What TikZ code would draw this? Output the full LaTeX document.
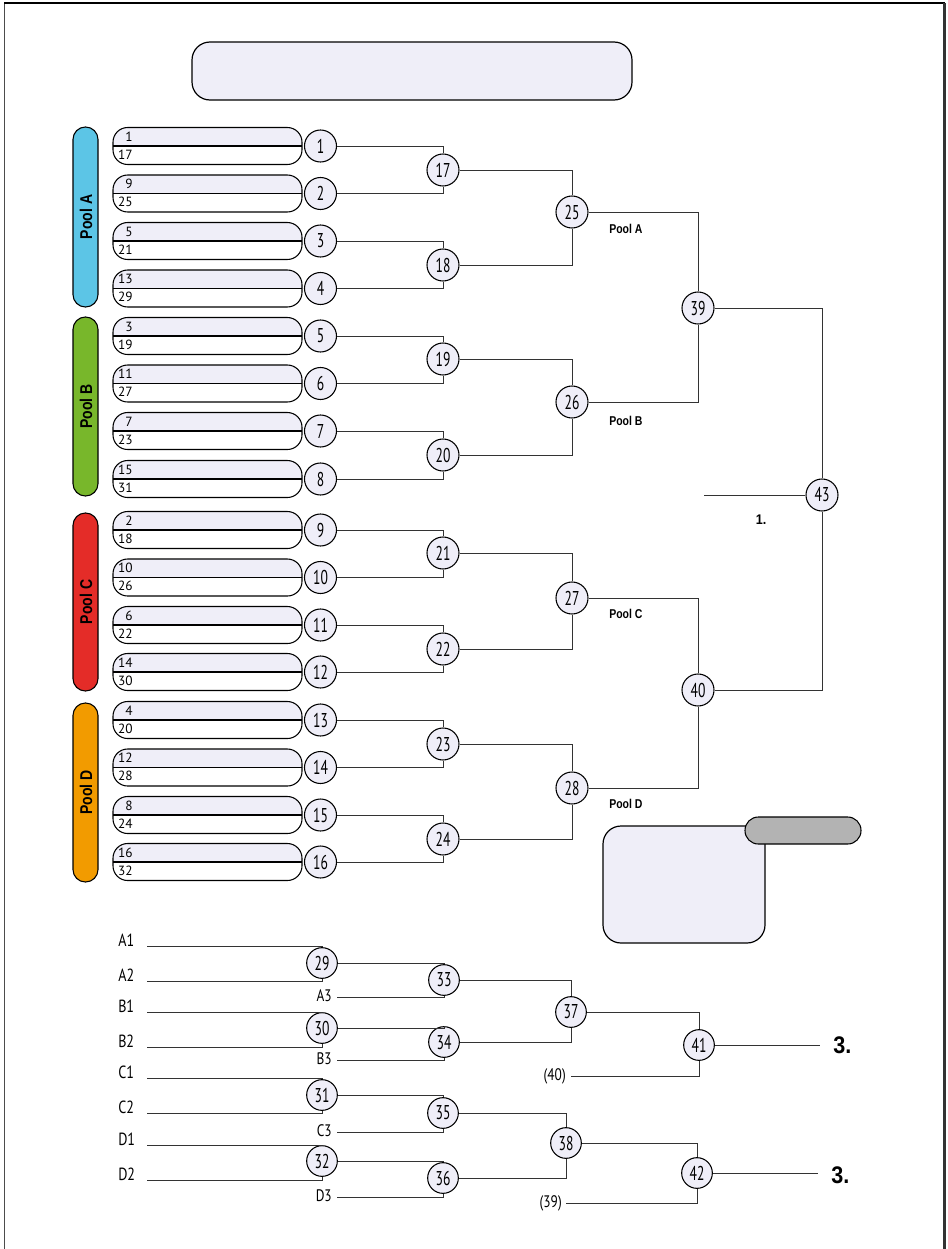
\documentclass[tikz,border=0pt]{standalone}
\usepackage{fontspec}
\setmainfont{PT Sans}
\newfontfamily\cnd{PT Sans}[FakeStretch=0.68]
\newfontfamily\lbl{PT Sans}[FakeStretch=0.8]
\newfontfamily\hb{Liberation Sans}[FakeStretch=0.9]
\newfontfamily\hbc{Liberation Sans}[FakeStretch=0.82]
\definecolor{lav}{HTML}{EFEEF8}
\definecolor{poolA}{HTML}{5CC5E6}
\definecolor{poolB}{HTML}{78B72B}
\definecolor{poolC}{HTML}{E42C28}
\definecolor{poolD}{HTML}{F29B00}
\definecolor{pill}{HTML}{B3B3B3}
\tikzset{
  circ/.style={circle, draw=black, line width=0.8pt, fill=lav, minimum size=24pt, inner sep=0pt, font=\cnd\fontsize{15}{15}\selectfont},
  circs/.style={circ, minimum size=23pt},
  wire/.style={draw=black!80, line width=0.75pt},
  poolbar/.style={draw=black, line width=0.8pt, rounded corners=9.3pt},
  pooltxt/.style={rotate=90, inner sep=0pt, font=\hbc\bfseries\fontsize{12.8}{13}\selectfont},
  plab/.style={anchor=west, inner sep=0pt, font=\hbc\bfseries\fontsize{9.6}{10}\selectfont},
  entnum/.style={anchor=east, inner sep=0pt, font=\fontsize{10}{10}\selectfont},
  seedlab/.style={anchor=west, inner sep=0pt, font=\lbl\fontsize{13.2}{13}\selectfont},
  thirdlab/.style={anchor=east, inner sep=0pt, font=\lbl\fontsize{12.5}{13}\selectfont},
  bigrank/.style={anchor=west, inner sep=0pt, font=\hb\bfseries\fontsize{18}{18}\selectfont},
  panel/.style={draw=black, line width=0.9pt, fill=lav}
}
\begin{document}
\begin{tikzpicture}[x=0.75pt,y=-0.75pt]
\useasboundingbox (0,0) rectangle (947,1249);
% frame
\draw[black!70, line width=0.8pt] (4.5,1249) -- (4.5,3);
\draw[black, line width=0.8pt] (4,3) -- (945,3);
\draw[black!80, line width=1.6pt] (944.5,3) -- (944.5,1249);
% top title box
\draw[panel, rounded corners=13.5pt] (192,42) rectangle (632,100);
% pool bars
\draw[poolbar, fill=poolA] (73,127) rectangle (98,307);
\draw[poolbar, fill=poolB] (73,317) rectangle (98,496);
\draw[poolbar, fill=poolC] (73,513) rectangle (98,691);
\draw[poolbar, fill=poolD] (73,703) rectangle (98,882);
\node[pooltxt] (pA) at (86,217) {Pool A};
\node[pooltxt] (pB) at (86,406.5) {Pool B};
\node[pooltxt] (pC) at (86,602) {Pool C};
\node[pooltxt] (pD) at (86,792.5) {Pool D};
% entry boxes
\foreach \i/\cy/\a/\b in {1/146/1/17,2/193.5/9/25,3/241/5/21,4/288.5/13/29,
  5/336/3/19,6/383.5/11/27,7/431/7/23,8/479/15/31,
  9/530/2/18,10/577.5/10/26,11/625/6/22,12/672/14/30,
  13/720/4/20,14/767.5/12/28,15/815/8/24,16/862/16/32}{
  \fill[white, rounded corners=11pt] (113,{\cy-18.5}) rectangle (302,{\cy+18.5});
  \begin{scope}
    \clip (110,{\cy-20}) rectangle (305,\cy);
    \fill[lav, rounded corners=11pt] (113,{\cy-18.5}) rectangle (302,{\cy+18.5});
  \end{scope}
  \draw[black, line width=0.8pt, rounded corners=11pt] (113,{\cy-18.5}) rectangle (302,{\cy+18.5});
  \draw[black, line width=0.8pt] (113,\cy) -- (302,\cy);
  \node[entnum] (et\i) at (133,{\cy-9.5}) {\a};
  \node[entnum] (eb\i) at (133,{\cy+8.5}) {\b};
  \node[circ] (c\i) at (320.5,\cy) {\i};
}
% round 2
\foreach \i/\cy in {17/170,18/265,19/359,20/455,21/553,22/649,23/744,24/839}
  \node[circ] (c\i) at (443,\cy) {\i};
% round 3
\foreach \i/\cy in {25/212,26/402,27/598,28/788}
  \node[circ] (c\i) at (572,\cy) {\i};
\node[circ] (c39) at (698,308) {39};
\node[circ] (c40) at (698,690) {40};
\node[circ] (c43) at (822,495) {43};
% connectors main bracket
\draw[wire] (c1.east) -| (c17.north);  \draw[wire] (c2.east) -| (c17.south);
\draw[wire] (c3.east) -| (c18.north);  \draw[wire] (c4.east) -| (c18.south);
\draw[wire] (c5.east) -| (c19.north);  \draw[wire] (c6.east) -| (c19.south);
\draw[wire] (c7.east) -| (c20.north);  \draw[wire] (c8.east) -| (c20.south);
\draw[wire] (c9.east) -| (c21.north);  \draw[wire] (c10.east) -| (c21.south);
\draw[wire] (c11.east) -| (c22.north); \draw[wire] (c12.east) -| (c22.south);
\draw[wire] (c13.east) -| (c23.north); \draw[wire] (c14.east) -| (c23.south);
\draw[wire] (c15.east) -| (c24.north); \draw[wire] (c16.east) -| (c24.south);
\draw[wire] (c17.east) -| (c25.north); \draw[wire] (c18.east) -| (c25.south);
\draw[wire] (c19.east) -| (c26.north); \draw[wire] (c20.east) -| (c26.south);
\draw[wire] (c21.east) -| (c27.north); \draw[wire] (c22.east) -| (c27.south);
\draw[wire] (c23.east) -| (c28.north); \draw[wire] (c24.east) -| (c28.south);
\draw[wire] (c25.east) -| (c39.north); \draw[wire] (c26.east) -| (c39.south);
\draw[wire] (c27.east) -| (c40.north); \draw[wire] (c28.east) -| (c40.south);
\draw[wire] (c39.east) -| (c43.north); \draw[wire] (c40.east) -| (c43.south);
\coordinate (winL) at (704,495);
\draw[wire] (c43.west) -- (winL);
\node[anchor=center, inner sep=0pt, font=\hb\bfseries\fontsize{10.5}{11}\selectfont] (first) at (761,520) {1.};
\node[plab] (lA) at (609,229) {Pool A};
\node[plab] (lB) at (609,421) {Pool B};
\node[plab] (lC) at (609,614) {Pool C};
\node[plab] (lD) at (609,804) {Pool D};
% lower right panel and pill
\draw[panel, rounded corners=13.5pt] (603,826) rectangle (765,943);
\draw[draw=black, line width=0.8pt, fill=pill, rounded corners=10pt] (745,817) rectangle (861,844);
% consolation bracket
\node[circs] (c29) at (322,963) {29};
\node[circs] (c30) at (322,1028) {30};
\node[circs] (c31) at (322,1095) {31};
\node[circs] (c32) at (322,1161) {32};
\node[circs] (c33) at (444,980) {33};
\node[circs] (c34) at (444,1042) {34};
\node[circs] (c35) at (443,1113) {35};
\node[circs] (c36) at (443,1178) {36};
\node[circs] (c37) at (571,1012) {37};
\node[circs] (c38) at (566,1143) {38};
\node[circs] (c41) at (699,1045) {41};
\node[circs] (c42) at (697,1173) {42};
% seed labels and line starts
\foreach \n/\ly/\c/\s in {A1/946/c29/north,A2/981/c29/south,B1/1012/c30/north,B2/1047/c30/south,
  C1/1078/c31/north,C2/1113/c31/south,D1/1145/c32/north,D2/1180/c32/south}{
  \node[seedlab] (l\n) at (118,{\ly-6}) {\n};
  \coordinate (s\n) at (147,\ly);
  \draw[wire] (s\n) -| (\c.\s);
}
\foreach \n/\ly/\c in {A3/997/c33,B3/1060/c34,C3/1132/c35,D3/1197/c36}{
  \node[thirdlab] (l\n) at (332,{\ly-1}) {\n};
  \coordinate (s\n) at (337,\ly);
  \draw[wire] (s\n) -| (\c.south);
}
\draw[wire] (c29.east) -| (c33.north);
\draw[wire] (c30.east) -| (c34.north);
\draw[wire] (c31.east) -| (c35.north);
\draw[wire] (c32.east) -| (c36.north);
\draw[wire] (c33.east) -| (c37.north); \draw[wire] (c34.east) -| (c37.south);
\draw[wire] (c35.east) -| (c38.north); \draw[wire] (c36.east) -| (c38.south);
\draw[wire] (c37.east) -| (c41.north);
\draw[wire] (c38.east) -| (c42.north);
\node[thirdlab] (l40) at (566,1076) {(40)};
\coordinate (s40) at (571,1076);
\draw[wire] (s40) -| (c41.south);
\node[thirdlab] (l39) at (562,1203) {(39)};
\coordinate (s39) at (566,1203);
\draw[wire] (s39) -| (c42.south);
\coordinate (e41) at (820,1045);
\coordinate (e42) at (818,1173);
\draw[wire] (c41.east) -- (e41);
\draw[wire] (c42.east) -- (e42);
\node[bigrank] (r41) at (833,1045) {3.};
\node[bigrank] (r42) at (831,1175) {3.};
\end{tikzpicture}
\end{document}
